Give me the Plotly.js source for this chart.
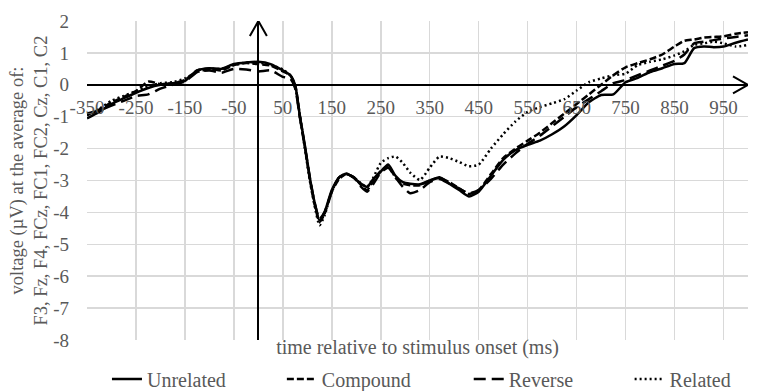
<!DOCTYPE html>
<html>
<head>
<meta charset="utf-8">
<script src="https://cdn.plot.ly/plotly-3.0.1.min.js"></script>
<style>html,body{margin:0;padding:0;background:#fff;}#chart{width:780px;height:391px;}</style>
</head>
<body>
<div id="chart"></div>
<script>
const time = [-350,-325,-300,-275,-250,-225,-200,-175,-150,-125,-100,-75,-50,-25,0,25,50,65,75,85,95,105,115,125,135,150,165,180,195,210,222,235,250,265,280,295,310,330,350,370,390,410,430,450,475,500,525,550,575,600,625,650,675,700,725,750,775,800,825,850,870,890,910,930,950,975,1000];

const unrelated = [-1.05,-0.85,-0.6,-0.42,-0.25,-0.1,0.0,0.05,0.12,0.45,0.52,0.5,0.65,0.7,0.72,0.65,0.45,0.3,0.0,-1.0,-1.9,-2.9,-3.7,-4.25,-4.0,-3.3,-2.9,-2.78,-2.92,-3.1,-3.2,-2.95,-2.72,-2.5,-2.85,-3.05,-3.1,-3.12,-3.0,-2.9,-3.1,-3.3,-3.5,-3.35,-2.85,-2.35,-2.05,-1.88,-1.75,-1.55,-1.3,-0.95,-0.55,-0.32,-0.3,0.08,0.22,0.4,0.52,0.65,0.68,1.15,1.2,1.18,1.2,1.32,1.42];

const compound = [-0.95,-0.78,-0.55,-0.38,-0.2,0.1,0.02,0.05,0.15,0.45,0.5,0.45,0.62,0.68,0.65,0.6,0.42,0.3,0.0,-1.0,-1.95,-2.95,-3.75,-4.3,-4.05,-3.35,-2.95,-2.8,-2.9,-3.15,-3.3,-3.0,-2.7,-2.55,-2.9,-3.1,-3.15,-3.15,-3.0,-2.92,-3.05,-3.25,-3.42,-3.3,-2.8,-2.3,-2.0,-1.75,-1.5,-1.2,-0.9,-0.6,-0.3,0.0,0.3,0.55,0.68,0.8,0.95,1.2,1.38,1.42,1.48,1.5,1.52,1.6,1.65];

const reverse = [-0.9,-0.8,-0.65,-0.5,-0.35,-0.3,-0.12,0.0,0.1,0.4,0.45,0.38,0.5,0.48,0.42,0.45,0.25,0.2,-0.1,-1.05,-1.95,-2.9,-3.7,-4.2,-4.0,-3.35,-2.9,-2.8,-2.9,-3.2,-3.35,-3.1,-2.75,-2.6,-2.9,-3.2,-3.4,-3.3,-3.05,-2.95,-3.1,-3.25,-3.4,-3.3,-2.95,-2.5,-2.15,-1.85,-1.6,-1.3,-1.0,-0.7,-0.45,-0.2,0.05,0.15,0.3,0.45,0.6,0.75,0.95,1.3,1.35,1.4,1.45,1.5,1.55];

const related = [-0.95,-0.75,-0.5,-0.35,-0.2,-0.05,0.05,0.08,0.2,0.4,0.5,0.5,0.62,0.7,0.7,0.62,0.48,0.3,-0.05,-1.0,-2.0,-3.0,-3.8,-4.4,-4.1,-3.35,-2.9,-2.8,-2.9,-3.1,-3.2,-2.9,-2.45,-2.3,-2.25,-2.45,-2.75,-2.98,-2.6,-2.25,-2.3,-2.42,-2.55,-2.5,-2.0,-1.55,-1.15,-0.85,-0.7,-0.58,-0.45,-0.18,0.08,0.2,0.3,0.35,0.62,0.72,0.8,0.92,1.05,1.25,1.3,1.35,1.3,1.2,1.25];

const seriesNames = ['Unrelated','Compound','Reverse','Related'];
const xTickVals = [-350,-250,-150,-50,50,150,250,350,450,550,650,750,850,950];
const xTickText = ['-350','-250','-150','-50','50','150','250','350','450','550','650','750','850','950'];
const yTickVals = [-8,-7,-6,-5,-4,-3,-2,-1,0,1,2];
const yTickText = ['-8','-7','-6','-5','-4','-3','-2','-1','0','1','2'];

const FONT = 'Liberation Serif, Times New Roman, serif';
const GREY = '#595959';

const styles = [
  {dash:'solid'},
  {dash:'7px,3px'},
  {dash:'12px,6px'},
  {dash:'2px,3px'}
];
const values = [unrelated, compound, reverse, related];
const legendIds = ['legend','legend2','legend3','legend4'];

const traces = values.map((v,i)=>({
  x: time, y: v, type:'scatter', mode:'lines', name: seriesNames[i],
  line:{color:'#000', width:2.5, dash:styles[i].dash, shape:'spline', smoothing:0.6},
  legend: legendIds[i], hoverinfo:'skip'
}));
traces.push({x:[null], y:[null], xaxis:'x2', yaxis:'y', showlegend:false, hoverinfo:'skip', mode:'lines'});

const legendX = [0.0302, 0.2948, 0.5775, 0.8209];
const legendBase = {orientation:'h', xanchor:'left', yanchor:'middle', yref:'container', y:0.031,
  font:{family:FONT, size:20, color:GREY}, bgcolor:'rgba(0,0,0,0)', borderwidth:0};

const layout = {
  width:780, height:391,
  margin:{l:87, r:31.5, t:21, b:51},
  paper_bgcolor:'#fff', plot_bgcolor:'#fff',
  font:{family:FONT, color:GREY},
  showlegend:true,
  xaxis:{
    range:[-350,1000], tickvals:xTickVals, ticktext:xTickText, showticklabels:false,
    showgrid:true, gridcolor:'#d9d9d9', gridwidth:1.5,
    zeroline:true, zerolinecolor:'#000', zerolinewidth:2,
    showline:false, ticks:'',
    title:{text:'time relative to stimulus onset (ms)', font:{family:FONT, size:20, color:GREY}, standoff:8},
    automargin:false
  },
  xaxis2:{
    overlaying:'x', anchor:'free', position:0.8, side:'bottom',
    range:[-350,1000], tickvals:xTickVals, ticktext:xTickText,
    showgrid:false, zeroline:false, showline:false, ticks:'', ticklabelstandoff:9,
    tickfont:{family:FONT, size:19, color:GREY}, automargin:false
  },
  yaxis:{
    range:[-8,2], tickvals:yTickVals, ticktext:yTickText,
    showgrid:true, gridcolor:'#d9d9d9', gridwidth:1.5,
    zeroline:true, zerolinecolor:'#000', zerolinewidth:2,
    showline:false, ticks:'', ticklabelstandoff:17,
    tickfont:{family:FONT, size:19, color:GREY},
    title:{text:'voltage (µV) at the average of:<br>F3, Fz, F4, FCz, FC1, FC2, Cz, C1, C2', font:{family:FONT, size:18.5, color:GREY}, standoff:0},
    automargin:false
  },
  shapes:[
    {type:'path', xref:'x', yref:'y', xsizemode:'pixel', ysizemode:'pixel', xanchor:0, yanchor:2,
     path:'M-8.5,-15 L0,0 L8.5,-15', line:{color:'#000', width:2}},
    {type:'path', xref:'x', yref:'y', xsizemode:'pixel', ysizemode:'pixel', xanchor:1000, yanchor:0,
     path:'M-15,8.5 L0,0 L-15,-8.5', line:{color:'#000', width:2}}
  ]
};
legendIds.forEach((id,i)=>{ layout[id] = Object.assign({}, legendBase, {x:legendX[i]}); });

Plotly.newPlot('chart', traces, layout, {displayModeBar:false, staticPlot:true});
</script>
</body>
</html>
